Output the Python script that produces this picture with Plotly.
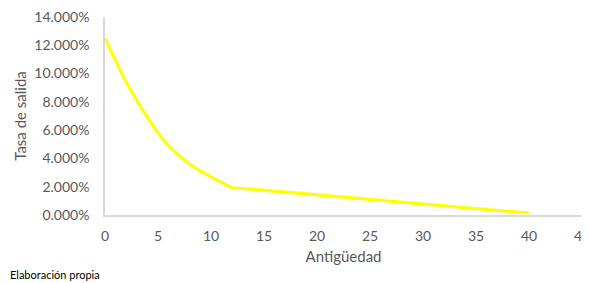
import plotly.graph_objects as go

antiguedad = [0, 1, 2, 3, 4, 5, 6, 7, 8, 9, 10, 11, 12, 13, 40]
tasa_salida = [0.125, 0.109, 0.094, 0.081, 0.069, 0.058, 0.049, 0.042, 0.036, 0.031, 0.027, 0.023, 0.0193, 0.0188, 0.0014]

x_ticks = [0, 5, 10, 15, 20, 25, 30, 35, 40, 45]
y_ticks = [0, 0.02, 0.04, 0.06, 0.08, 0.10, 0.12, 0.14]

font_family = "Lato, Open Sans, sans-serif"
gray = "#595959"
axis_gray = "#d9d9d9"

# page body has an 8px default margin, so the figure is sized to fit the window
W, H = 581, 275
L, R, T, B = 97, 7, 9, 68
plot_w = W - L - R
plot_h = H - T - B

fig = go.Figure()
fig.add_trace(go.Scatter(
    x=antiguedad, y=tasa_salida, mode="lines",
    line=dict(color="#FFFF00", width=3, shape="spline", smoothing=0.6),
    showlegend=False, hoverinfo="skip", cliponaxis=False,
))

fig.update_layout(
    width=W, height=H,
    margin=dict(l=L, r=R, t=T, b=B, autoexpand=False),
    paper_bgcolor="white", plot_bgcolor="white",
    font=dict(family=font_family, color=gray, size=12),
    xaxis=dict(
        range=[0, 45], tickvals=x_ticks, ticktext=[str(v) for v in x_ticks],
        showgrid=False, zeroline=False, automargin=False,
        showline=True, linecolor=axis_gray, linewidth=1.5,
        ticks="outside", ticklen=7, tickcolor="rgba(0,0,0,0)",
        ticklabeloverflow="allow",
        tickfont=dict(size=14, color=gray),
        title=dict(text="Antigüedad", font=dict(size=15, color=gray), standoff=9),
    ),
    yaxis=dict(
        range=[0, 0.14], tickvals=y_ticks, tickformat=".3%",
        showgrid=False, zeroline=False, automargin=False,
        showline=True, linecolor=axis_gray, linewidth=1.5,
        ticks="outside", ticklen=11, tickcolor="rgba(0,0,0,0)",
        ticklabeloverflow="allow",
        tickfont=dict(size=14, color=gray),
        title=dict(text="Tasa de salida", font=dict(size=15, color=gray), standoff=4),
    ),
    annotations=[dict(
        text="Elaboración propia",
        x=-L / plot_w, y=(T + plot_h - 266) / plot_h,
        xref="paper", yref="paper",
        showarrow=False, font=dict(size=11, color="#000000", family=font_family),
        xanchor="left", yanchor="middle",
    )],
)

fig.write_html("out.html")
